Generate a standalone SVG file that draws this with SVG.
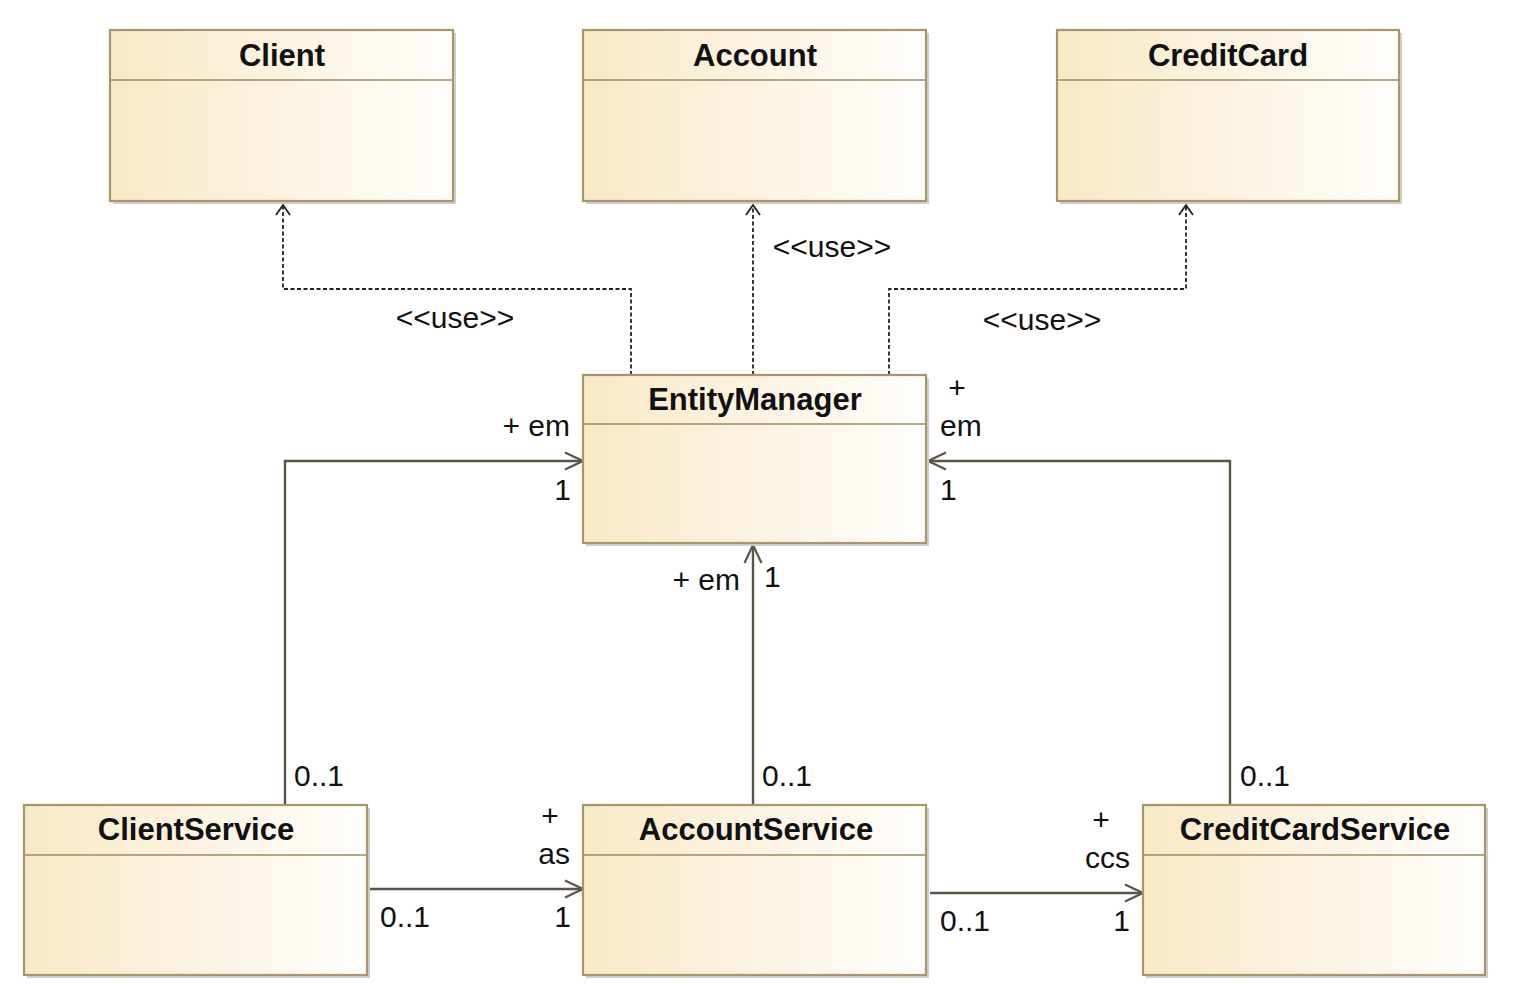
<svg xmlns="http://www.w3.org/2000/svg" width="1522" height="1002" viewBox="0 0 1522 1002">
<style>
.box{fill:url(#g);stroke:#a8966a;stroke-width:2.2}
.div{stroke:#9c8b62;stroke-width:1.6}
.sh{fill:#cfcfcf}
.name{font-family:"Liberation Sans",Arial,sans-serif;font-weight:bold;font-size:31px;fill:#111;text-anchor:middle}
.lbl{font-family:"Liberation Sans",Arial,sans-serif;font-size:30px;fill:#111}
.dash{fill:none;stroke:#222;stroke-width:1.8;stroke-dasharray:4 2.5}
.sol{fill:none;stroke:#5a5548;stroke-width:2.4}
</style>
<defs>
<linearGradient id="g" x1="0" y1="0" x2="1" y2="0">
<stop offset="0" stop-color="#f8e9c6"/>
<stop offset="0.55" stop-color="#fcf4e4"/>
<stop offset="1" stop-color="#fffefc"/>
</linearGradient>
<marker id="open" viewBox="0 0 20 20" refX="19" refY="10" markerWidth="20" markerHeight="20" markerUnits="userSpaceOnUse" orient="auto">
<path d="M1 1.5 L19 10 L1 18.5" fill="none" stroke="#5a5548" stroke-width="2.2"/>
</marker>
<marker id="openD" viewBox="0 0 12 16" refX="11" refY="8" markerWidth="12" markerHeight="16" markerUnits="userSpaceOnUse" orient="auto">
<path d="M1 1 L11 8 L1 15" fill="none" stroke="#222" stroke-width="1.8"/>
</marker>
</defs>

<g id="connectors">
<path class="dash" d="M631 375 V289 H283 V205" marker-end="url(#openD)"/>
<path class="dash" d="M753 375 V205" marker-end="url(#openD)"/>
<path class="dash" d="M889 375 V289 H1186 V205" marker-end="url(#openD)"/>
<path class="sol" d="M285 805 V461 H583" marker-end="url(#open)"/>
<path class="sol" d="M753 805 V545" marker-end="url(#open)"/>
<path class="sol" d="M1230 805 V461 H928" marker-end="url(#open)"/>
<path class="sol" d="M370 889 H583" marker-end="url(#open)"/>
<path class="sol" d="M930 893 H1143" marker-end="url(#open)"/>
<text class="lbl" x="455" y="328" text-anchor="middle">&lt;&lt;use&gt;&gt;</text>
<text class="lbl" x="832" y="257" text-anchor="middle">&lt;&lt;use&gt;&gt;</text>
<text class="lbl" x="1042" y="330" text-anchor="middle">&lt;&lt;use&gt;&gt;</text>
<text class="lbl" x="570" y="436" text-anchor="end">+ em</text>
<text class="lbl" x="571" y="500" text-anchor="end">1</text>
<text class="lbl" x="740" y="590" text-anchor="end">+ em</text>
<text class="lbl" x="764" y="587">1</text>
<text class="lbl" x="294" y="786">0..1</text>
<text class="lbl" x="762" y="786">0..1</text>
<text class="lbl" x="1240" y="786">0..1</text>
<text class="lbl" x="957" y="398" text-anchor="middle">+</text>
<text class="lbl" x="940" y="436">em</text>
<text class="lbl" x="940" y="500">1</text>
<text class="lbl" x="550" y="826" text-anchor="middle">+</text>
<text class="lbl" x="570" y="864" text-anchor="end">as</text>
<text class="lbl" x="380" y="927">0..1</text>
<text class="lbl" x="571" y="927" text-anchor="end">1</text>
<text class="lbl" x="1101" y="830" text-anchor="middle">+</text>
<text class="lbl" x="1130" y="868" text-anchor="end">ccs</text>
<text class="lbl" x="940" y="931">0..1</text>
<text class="lbl" x="1130" y="931" text-anchor="end">1</text>
</g>

<g id="Client">
<rect class="sh" x="113" y="33" width="343" height="171"/>
<rect class="box" x="110" y="30" width="343" height="171"/>
<line class="div" x1="111" y1="80" x2="452" y2="80"/>
<text class="name" x="282" y="66">Client</text>
</g>
<g id="Account">
<rect class="sh" x="586" y="33" width="343" height="171"/>
<rect class="box" x="583" y="30" width="343" height="171"/>
<line class="div" x1="584" y1="80" x2="925" y2="80"/>
<text class="name" x="755" y="66">Account</text>
</g>
<g id="CreditCard">
<rect class="sh" x="1060" y="33" width="342" height="171"/>
<rect class="box" x="1057" y="30" width="342" height="171"/>
<line class="div" x1="1058" y1="80" x2="1398" y2="80"/>
<text class="name" x="1228" y="66">CreditCard</text>
</g>
<g id="EntityManager">
<rect class="sh" x="586" y="378" width="343" height="168"/>
<rect class="box" x="583" y="375" width="343" height="168"/>
<line class="div" x1="584" y1="424" x2="925" y2="424"/>
<text class="name" x="755" y="410">EntityManager</text>
</g>
<g id="ClientService">
<rect class="sh" x="27" y="808" width="343" height="170"/>
<rect class="box" x="24" y="805" width="343" height="170"/>
<line class="div" x1="25" y1="855" x2="366" y2="855"/>
<text class="name" x="196" y="840">ClientService</text>
</g>
<g id="AccountService">
<rect class="sh" x="586" y="808" width="343" height="170"/>
<rect class="box" x="583" y="805" width="343" height="170"/>
<line class="div" x1="584" y1="855" x2="925" y2="855"/>
<text class="name" x="756" y="840">AccountService</text>
</g>
<g id="CreditCardService">
<rect class="sh" x="1146" y="808" width="342" height="170"/>
<rect class="box" x="1143" y="805" width="342" height="170"/>
<line class="div" x1="1144" y1="855" x2="1484" y2="855"/>
<text class="name" x="1315" y="840">CreditCardService</text>
</g>
</svg>
